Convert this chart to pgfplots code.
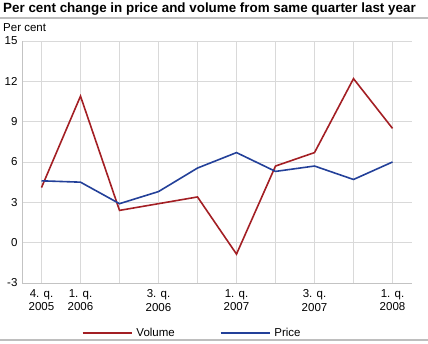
\documentclass[border=0pt]{standalone}
\usepackage{fontspec}
\setmainfont{Liberation Sans}
\usepackage{pgfplots}
\pgfplotsset{compat=1.18}
\definecolor{volred}{RGB}{163,31,36}
\definecolor{priceblue}{RGB}{35,64,153}
\definecolor{gridgray}{RGB}{217,217,217}
\definecolor{rulegray}{RGB}{190,190,190}
\begin{document}
\begin{tikzpicture}[x=1pt,y=1pt]
\path[use as bounding box] (0,0) rectangle (428,343);
\draw[rulegray, line width=1.2pt] (0,325) -- (428,325);
\draw[rulegray, line width=1.2pt] (0,3) -- (428,3);
\node[anchor=base west, inner sep=0pt, font=\fontsize{13.4}{16}\selectfont\bfseries] at (3,330) {Per cent change in price and volume from same quarter last year};
\node[anchor=base west, inner sep=0pt, font=\fontsize{11.5}{14}\selectfont] at (3,311) {Per cent};
\begin{axis}[
  at={(22pt,60pt)}, anchor=south west,
  scale only axis, width=390pt, height=242pt,
  xmin=-0.5, xmax=9.5, ymin=-3, ymax=15,
  xtick={0,...,9}, ytick={-3,0,...,15},
  xticklabels={{4. q.\\2005},{1. q.\\2006},{},{3. q.\\2006},{},{1. q.\\2007},{},{3. q.\\2007},{},{1. q.\\2008}},
  xticklabel style={align=center, font=\fontsize{11.5}{13.5}\selectfont, yshift=-3pt},
  yticklabel style={font=\fontsize{11.5}{14}\selectfont, xshift=-1pt},
  /pgf/number format/assume math mode=true,
  axis x line*=bottom, axis y line*=left,
  axis line style={gridgray!90!black, line width=0.8pt, -},
  major tick length=0pt,
  grid=major, grid style={gridgray, line width=0.8pt},
  legend columns=2,
  legend style={at={(rel axis cs:0.153,-0.206)}, anchor=west, draw=none, fill=none, inner sep=0pt,
    font=\fontsize{11.5}{14}\selectfont,
    /tikz/every odd column/.append style={column sep=2pt},
    /tikz/every even column/.append style={column sep=43pt}},
  legend image code/.code={\draw[#1] (0pt,0pt) -- (49pt,0pt);},
]
\addplot[volred, line width=1.6pt] coordinates {
(0,4.1) (1,10.9) (2,2.4) (3,2.9) (4,3.4) (5,-0.85) (6,5.7) (7,6.7) (8,12.2) (9,8.5)};
\addlegendentry{Volume}
\addplot[priceblue, line width=1.6pt] coordinates {
(0,4.6) (1,4.5) (2,2.9) (3,3.8) (4,5.55) (5,6.7) (6,5.3) (7,5.7) (8,4.7) (9,6.0)};
\addlegendentry{Price}
\end{axis}
\end{tikzpicture}
\end{document}
